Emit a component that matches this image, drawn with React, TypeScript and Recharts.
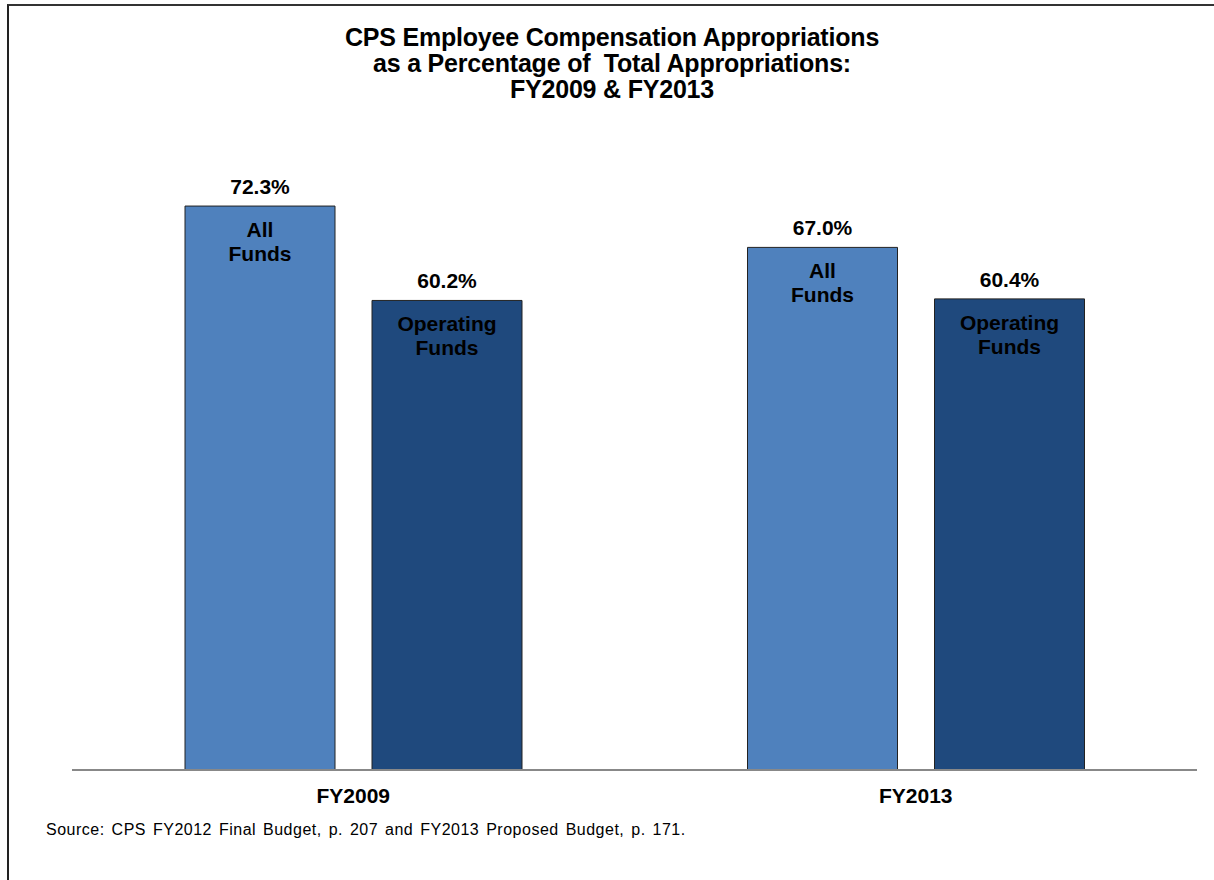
import React from "react";
import { Bar, BarChart, LabelList, XAxis, YAxis } from "recharts";

const years = ["FY2009", "FY2013"];
const allFunds = [72.3, 67.0];
const operatingFunds = [60.2, 60.4];
const seriesNames = [["All", "Funds"], ["Operating", "Funds"]];
const titleLines = [
  "CPS Employee Compensation Appropriations",
  "as a Percentage of  Total Appropriations:",
  "FY2009 & FY2013",
];
const source =
  "Source: CPS FY2012 Final Budget, p. 207 and FY2013 Proposed Budget, p. 171.";

const FONT = '"Liberation Sans", Arial, sans-serif';

const data = years.map((y, i) => ({
  year: y,
  all: allFunds[i],
  operating: operatingFunds[i],
}));

function inside(lines: string[]) {
  return (props: any) => {
    const { x, y, width } = props;
    const cx = Number(x) + Number(width) / 2;
    return (
      <text
        x={cx}
        y={Number(y) + 31}
        textAnchor="middle"
        fontFamily={FONT}
        fontWeight="bold"
        fontSize={21}
        fill="#000"
      >
        {lines.map((l, k) => (
          <tspan key={k} x={cx} dy={k === 0 ? 0 : 24}>
            {l}
          </tspan>
        ))}
      </text>
    );
  };
}

const valueStyle = { fontFamily: FONT, fontWeight: "bold", fontSize: 21, fill: "#000" };

export default function App() {
  return (
    <div
      style={{
        position: "absolute",
        left: 0,
        top: 0,
        width: 1214,
        height: 880,
        background: "#fff",
        overflow: "hidden",
        fontFamily: FONT,
      }}
    >
      <div
        style={{
          position: "absolute",
          left: 7,
          top: 4,
          width: 1300,
          height: 1000,
          borderLeft: "2px solid #222",
          borderTop: "2px solid #333",
        }}
      />
      <div
        style={{
          position: "absolute",
          left: 0,
          top: 24,
          width: 1224,
          textAlign: "center",
          fontWeight: "bold",
          fontSize: 25,
          lineHeight: "26px",
          letterSpacing: -0.2,
          whiteSpace: "pre",
        }}
      >
        {titleLines.map((t) => (
          <div key={t}>{t}</div>
        ))}
      </div>
      <div style={{ position: "absolute", left: 0, top: 0 }}>
        <BarChart
          width={1214}
          height={880}
          data={data}
          margin={{ top: 146, right: 17, left: 72, bottom: 80 }}
          barGap={37}
          barSize={150}
        >
          <YAxis hide domain={[0, 80]} />
          <XAxis
            dataKey="year"
            axisLine={{ stroke: "#888", strokeWidth: 2 }}
            tickLine={false}
            tick={{ fontFamily: FONT, fontWeight: "bold", fontSize: 21, fill: "#000" }}
            tickMargin={12}
          />
          <Bar dataKey="all" fill="#4f81bd" stroke="#222" strokeWidth={1} isAnimationActive={false}>
            <LabelList
              dataKey="all"
              position="top"
              offset={12}
              formatter={(v: any) => `${Number(v).toFixed(1)}%`}
              style={valueStyle}
            />
            <LabelList dataKey="all" content={inside(seriesNames[0])} />
          </Bar>
          <Bar dataKey="operating" fill="#1f497d" stroke="#222" strokeWidth={1} isAnimationActive={false}>
            <LabelList
              dataKey="operating"
              position="top"
              offset={12}
              formatter={(v: any) => `${Number(v).toFixed(1)}%`}
              style={valueStyle}
            />
            <LabelList dataKey="operating" content={inside(seriesNames[1])} />
          </Bar>
        </BarChart>
      </div>
      <div
        style={{
          position: "absolute",
          left: 46,
          top: 821,
          fontSize: 16,
          letterSpacing: 0.5,
          wordSpacing: 2,
          whiteSpace: "pre",
        }}
      >
        {source}
      </div>
    </div>
  );
}
